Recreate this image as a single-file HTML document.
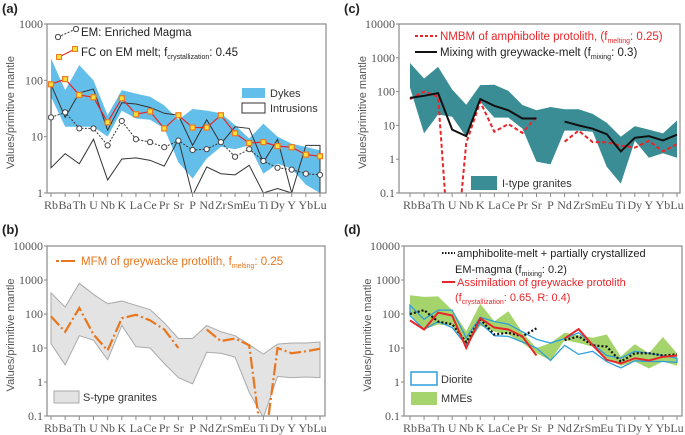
<!DOCTYPE html>
<html><head><meta charset="utf-8"><style>
body{margin:0;background:#fff}
svg{display:block;font-family:"Liberation Sans",sans-serif}
</style></head><body>
<svg id="c" width="685" height="435" viewBox="0 0 685 435"></svg>
<script>
const categories=["Rb","Ba","Th","U","Nb","K","La","Ce","Pr","Sr","P","Nd","Zr","Sm","Eu","Ti","Dy","Y","Yb","Lu"];
// panel a
const dykesUpper=[245,67,186,100,24,67,58,51,36,20,31,29,26,16,9.3,17,10,7.5,6.6,5.7];
const dykesLower=[51,15,15,15,10,29,21,20,14,3.5,1.8,4.1,6.6,6,7,2.2,3.3,2.7,1.4,1];
const intrUpper=[85,22,60,70,13,40,38,33,26,24,7,20,7.5,15,14,3.5,9,1,7,7];
const intrLower=[2.8,5,3.3,9,1.7,4,4.2,3.8,3,9,0.9,2.9,2.2,2.1,3.1,1,1.2,1,1,1];
const emValues=[22,27,14,14,7,19,9,8,6.5,8.5,5.8,6,8,4.4,6,3.7,2.8,2.6,2.2,2.1];
const fcValues=[85,105,55,50,18,48,25,28,14,24,14.5,14.5,24,11.5,7.7,8,6.8,6.5,4.8,4.5];
// panel b
const sUpper=[420,160,800,380,200,240,180,135,55,19,19,46,30,23,12.6,6.6,13,14,14,15];
const sLower=[13.4,3.2,23,17,4.5,46,11,10,3.5,1.35,0.88,7.5,7,5.4,0.5,0.09,1.45,1.35,1.4,1.35];
const mfmValues=[85,30,150,25,8.5,75,95,65,35,10,null,35,16,19,12,0.007,10,7,8,9.5];
// panel c
const iUpper=[700,245,540,115,41,155,160,105,40,28,35,30,30,22,12,4.6,9.5,7.5,5.8,14];
const iLower=[130,5.8,21,18,4.6,50,17,17,8,0.85,0.7,7,7,6.5,0.6,0.19,3.5,1.1,1.5,1.1];
const mixValues=[65,75,90,7.5,4.8,60,38,28,16,16,null,13,10,8,5.5,1.7,4.3,4.8,3.6,5.3];
const nmbmValues=[60,100,70,0.0001,3,50,6.5,11,6,18,null,3.3,7,3.2,3.2,2.5,2.2,3.5,1.7,2.8];
// panel d
const mmeUpper=[355,320,330,130,31,200,61,120,28,10,14,28,24,20,25,5.6,13,7,21,7];
const mmeLower=[100,35,49,45,11,45,30,25,14,7,4.3,17,14,11,5,3,4,2.5,4,3];
const dioUpper=[180,70,130,130,20,80,60,50,30,18,14,19,28,13,6,5,8,7,6,5];
const dioLower=[90,35,60,40,12,55,23,22,15,10,4.3,12,6.5,8,4,2.6,4.2,4,4,3.8];
const amphValues=[100,130,60,50,15,70,25,28,22,38,null,17,22,12,11,4,7,7,6,6.5];
const assimValues=[65,35,110,90,10,75,40,35,22,6,null,19,36,12,4.5,3.5,5,4.3,5.5,6];
const ticksA=["1","10","100","1000"];
const ticksB=["0.1","1","10","100","1000","10000"];

const NS="http://www.w3.org/2000/svg";
const svg=document.getElementById('c');
const SERIF='"Liberation Serif",serif';
function el(tag,attrs,parent){const e=document.createElementNS(NS,tag);for(const k in attrs)e.setAttribute(k,attrs[k]);(parent||svg).appendChild(e);return e;}
function txt(x,y,s,attrs,parent){const t=el('text',Object.assign({x:x,y:y},attrs||{}),parent);t.textContent=s;return t;}

function makePanel(p){
  const g=el('g',{});
  
  
  const lmin=Math.log10(p.vmin),lmax=Math.log10(p.vmax);
  const X=i=>p.x0+(p.x1-p.x0)*i/(categories.length-1);
  const Y=v=>p.bottom-(Math.log10(v)-lmin)/(lmax-lmin)*(p.bottom-p.top);
  const clip='clip-'+p.name;
  const cp=el('clipPath',{id:clip},g);el('rect',{x:p.left,y:p.top,width:p.right-p.left,height:p.bottom-p.top},cp);
  const plot=el('g',{'clip-path':'url(#'+clip+')'},g);
  p.draw(plot,X,Y);
  const fr=el('rect',{x:p.left,y:p.top,width:p.right-p.left,height:p.bottom-p.top,fill:'none',stroke:'#8a8a8a','stroke-width':1.2},g);
  
  p.ticks.forEach(t=>{const y=Y(parseFloat(t));
    el('line',{x1:p.left-3,x2:p.left,y1:y,y2:y,stroke:'#8a8a8a'},g);
    const tl=txt(p.left-4,y+4,t,{'text-anchor':'end','font-size':12,fill:'#555','font-family':SERIF},g);
    });
  categories.forEach((c,i)=>{const x=X(i);
    el('line',{x1:x,x2:x,y1:p.bottom,y2:p.bottom+4,stroke:'#8a8a8a'},g);
    const cl=txt(x,p.bottom+16,c,{'text-anchor':'middle','font-size':12,fill:'#555','font-family':SERIF},g);
    });
  const yt=txt(0,0,'Values/primitive mantle',{transform:`translate(${p.left-33},${(p.top+p.bottom)/2+4}) rotate(-90)`,'text-anchor':'middle','font-size':11,fill:'#555'},g);
  
  const pl=txt(p.lx,p.ly,p.label,{'font-size':13,'font-weight':'bold',fill:'#222'},g);
  
  p.legend(g);
}
function band(g,up,lo,X,Y,attrs,name){
  let pts=up.map((v,i)=>X(i)+','+Y(v));
  for(let i=lo.length-1;i>=0;i--)pts.push(X(i)+','+Y(lo[i]));
  const e=el('polygon',Object.assign({points:pts.join(' ')},attrs),g);
  
}
function line(g,vals,X,Y,attrs,name){
  let d='',pen=false;
  vals.forEach((v,i)=>{if(v==null){pen=false;return;}d+=(pen?'L':'M')+X(i)+','+Y(v);pen=true;});
  const e=el('path',Object.assign({d:d,fill:'none'},attrs),g);
  
}
function sub(t,main,s){const a=el('tspan',{},t);a.textContent=main;const b=el('tspan',{'font-size':'7','dy':3},t);b.textContent=s;return el('tspan',{dy:-3},t);}

makePanel({name:'panel-a',left:47,right:326,top:24,bottom:193,x0:51,x1:320,vmin:1,vmax:1000,ticks:ticksA,label:'(a)',lx:2,ly:13,
draw(g,X,Y){
  band(g,dykesUpper,dykesLower,X,Y,{fill:'#63bfea',stroke:'none'},'dykes-band');
  band(g,intrUpper,intrLower,X,Y,{fill:'none',stroke:'#333','stroke-width':1},'intrusions-outline');
  line(g,emValues,X,Y,{stroke:'#333','stroke-width':1,'stroke-dasharray':'2,1.5'},'em-line');
  emValues.forEach((v,i)=>{const c=el('circle',{cx:X(i),cy:Y(v),r:2.6,fill:'#fff',stroke:'#444','stroke-width':1},g);});
  line(g,fcValues,X,Y,{stroke:'#e8262a','stroke-width':1.2},'fc-line');
  fcValues.forEach((v,i)=>{const r=el('rect',{x:X(i)-2.5,y:Y(v)-2.5,width:5,height:5,fill:'#f7e13a',stroke:'#f07a20','stroke-width':1.2},g);});
},
legend(g){
  el('path',{d:'M58,37 L76,29',stroke:'#333','stroke-dasharray':'2,1.5',fill:'none'},g);
  el('circle',{cx:58,cy:37,r:2.6,fill:'#fff',stroke:'#444'},g);el('circle',{cx:76,cy:29,r:2.6,fill:'#fff',stroke:'#444'},g);
  let t=txt(81,36,'EM: Enriched Magma',{'font-size':11.5,fill:'#222'},g);
  el('path',{d:'M59,57 L75,49',stroke:'#e8262a',fill:'none'},g);
  el('rect',{x:56.5,y:54.5,width:5,height:5,fill:'#f7e13a',stroke:'#f07a20'},g);el('rect',{x:72.5,y:46.5,width:5,height:5,fill:'#f7e13a',stroke:'#f07a20'},g);
  t=txt(81,56,'',{'font-size':11.5,fill:'#222'},g);
  const r=sub(t,'FC on EM melt; f','crystallization');r.textContent=': 0.45';
  el('rect',{x:242,y:88,width:23,height:10,fill:'#63bfea'},g);
  t=txt(270,97,'Dykes',{'font-size':11,fill:'#333'},g);
  el('rect',{x:242,y:103,width:23,height:10,fill:'none',stroke:'#333'},g);
  t=txt(270,112,'Intrusions',{'font-size':11,fill:'#333'},g);
}});

makePanel({name:'panel-c',left:399,right:680,top:24,bottom:193,x0:410,x1:677,vmin:0.1,vmax:10000,ticks:ticksB,label:'(c)',lx:344,ly:13,
draw(g,X,Y){
  band(g,iUpper,iLower,X,Y,{fill:'#3a8d95',stroke:'none'},'i-type-band');
  line(g,nmbmValues,X,Y,{stroke:'#e8262a','stroke-width':2,'stroke-dasharray':'4,2.5'},'nmbm-line');
  line(g,mixValues,X,Y,{stroke:'#111','stroke-width':2},'mixing-line');
},
legend(g){
  el('line',{x1:415,x2:437,y1:36,y2:36,stroke:'#e8262a','stroke-width':2,'stroke-dasharray':'3,2'},g);
  let t=txt(440,40,'',{'font-size':11.5,fill:'#e8262a'},g);
  let r=sub(t,'NMBM of amphibolite protolith, (f','melting');r.textContent=': 0.25)';
  el('line',{x1:415,x2:437,y1:52,y2:52,stroke:'#111','stroke-width':2},g);
  t=txt(440,56,'',{'font-size':11.5,fill:'#222'},g);
  r=sub(t,'Mixing with greywacke-melt (f','mixing');r.textContent=': 0.3)';
  el('rect',{x:471,y:176,width:26,height:14,fill:'#3a8d95'},g);
  t=txt(502,187,'I-type granites',{'font-size':11,fill:'#333'},g);
}});

makePanel({name:'panel-b',left:47,right:325,top:246,bottom:416,x0:51,x1:320,vmin:0.1,vmax:10000,ticks:ticksB,label:'(b)',lx:2,ly:234,
draw(g,X,Y){
  band(g,sUpper,sLower,X,Y,{fill:'#e3e3e3',stroke:'#aaa','stroke-width':1},'s-type-band');
  line(g,mfmValues,X,Y,{stroke:'#e8761e','stroke-width':2.2,'stroke-dasharray':'12,3,2,3'},'mfm-line');
},
legend(g){
  el('line',{x1:56,x2:78,y1:261,y2:261,stroke:'#e8761e','stroke-width':2,'stroke-dasharray':'3,2,14'},g);
  let t=txt(81,265,'',{'font-size':11.5,fill:'#e8761e'},g);
  let r=sub(t,'MFM of greywacke protolith, f','melting');r.textContent=': 0.25';
  el('rect',{x:54,y:391,width:25,height:12,fill:'#e3e3e3',stroke:'#aaa'},g);
  t=txt(83,401,'S-type granites',{'font-size':11,fill:'#333'},g);
}});

makePanel({name:'panel-d',left:404,right:682,top:246,bottom:416,x0:410,x1:677,vmin:0.1,vmax:10000,ticks:ticksB,label:'(d)',lx:344,ly:234,
draw(g,X,Y){
  band(g,mmeUpper,mmeLower,X,Y,{fill:'#a6d46c',stroke:'none'},'mme-band');
  band(g,dioUpper,dioLower,X,Y,{fill:'none',stroke:'#2e9ddc','stroke-width':1.3},'diorite-outline');
  line(g,amphValues,X,Y,{stroke:'#111','stroke-width':2.2,'stroke-dasharray':'2,2'},'amphibolite-mixing-line');
  line(g,assimValues,X,Y,{stroke:'#e8262a','stroke-width':2},'assimilation-line');
},
legend(g){
  el('line',{x1:442,x2:455,y1:253,y2:253,stroke:'#111','stroke-width':2,'stroke-dasharray':'1.5,1.5'},g);
  let t=txt(457,257,'amphibolite-melt + partially crystallized',{'font-size':11,fill:'#222'},g);
  t=txt(455,273,'',{'font-size':11,fill:'#222'},g);
  let r=sub(t,'EM-magma (f','mixing');r.textContent=': 0.2)';
  el('line',{x1:442,x2:455,y1:282,y2:282,stroke:'#e8262a','stroke-width':2},g);
  t=txt(457,286,'Assimilation of greywacke protolith',{'font-size':11,fill:'#e8262a'},g);
  t=txt(455,301,'',{'font-size':11,fill:'#e8262a'},g);
  r=sub(t,'(f','crystallization');r.textContent=': 0.65, R: 0.4)';
  el('rect',{x:411,y:372,width:26,height:13,fill:'none',stroke:'#2e9ddc','stroke-width':1.5},g);
  t=txt(441,383,'Diorite',{'font-size':11,fill:'#333'},g);
  el('rect',{x:411,y:392,width:26,height:13,fill:'#a6d46c'},g);
  t=txt(441,402,'MMEs',{'font-size':11,fill:'#333'},g);
}});
</script>
</body></html>
